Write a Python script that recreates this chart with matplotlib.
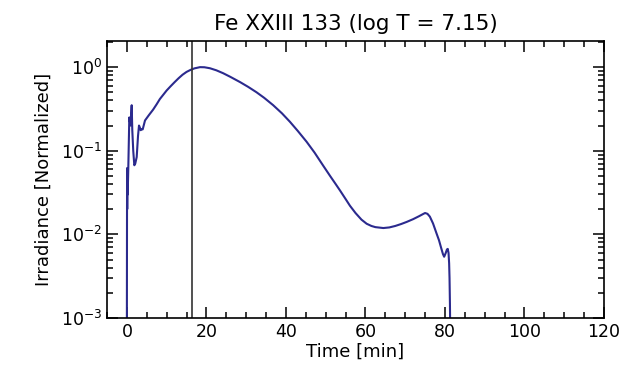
import matplotlib
matplotlib.use("Agg")
import matplotlib.pyplot as plt
from matplotlib.ticker import MultipleLocator, LogLocator, NullFormatter

time_min = [0.0, 0.03, 0.05, 0.08, 0.12, 0.2, 0.35, 0.61, 0.9, 1.21, 1.36, 1.6, 1.87, 2.1, 2.47,
            2.8, 3.05, 3.25, 3.48, 3.75, 3.98, 4.56, 5.5, 6.6, 7.5, 8.3, 9.2, 10.0, 11.0, 12.0,
            13.0, 14.0, 15.0, 16.0, 17.0, 18.4, 19.5, 20.9, 22.5, 24.2, 26.0, 28.5, 30.5, 32.6,
            34.5, 36.8, 39.0, 41.0, 43.0, 45.2, 47.2, 49.4, 51.1, 52.5, 53.6, 55.0, 56.1, 57.5,
            59.0, 60.3, 61.5, 62.5, 64.5, 66.0, 67.5, 69.0, 70.4, 72.0, 73.5, 74.5, 75.0, 75.6,
            76.2, 77.0, 77.9, 78.5, 79.0, 79.5, 79.8, 80.2, 80.5, 80.7, 80.9, 81.05, 81.15,
            81.25, 81.3]
irradiance = [0.0009, 0.013, 0.062, 0.02, 0.06, 0.03, 0.06, 0.25, 0.2, 0.35, 0.176, 0.1, 0.067,
              0.07, 0.084, 0.15, 0.20, 0.19, 0.176, 0.18, 0.18, 0.23, 0.265, 0.31, 0.36, 0.415,
              0.47, 0.525, 0.59, 0.66, 0.735, 0.81, 0.875, 0.925, 0.965, 0.998, 0.995, 0.968,
              0.915, 0.845, 0.765, 0.66, 0.58, 0.50, 0.43, 0.35, 0.28, 0.222, 0.172, 0.128,
              0.095, 0.066, 0.050, 0.040, 0.0335, 0.0265, 0.0220, 0.0180, 0.0150, 0.0134,
              0.0126, 0.0122, 0.0119, 0.0121, 0.0126, 0.0133, 0.0141, 0.0152, 0.0165, 0.0175,
              0.0180, 0.0176, 0.0163, 0.0135, 0.0102, 0.0085, 0.0070, 0.0058, 0.0054, 0.0060,
              0.0066, 0.0067, 0.0060, 0.0045, 0.0030, 0.0015, 0.0009]
marker_time = 16.5

title = "Fe XXIII 133 (log T = 7.15)"
xlabel = "Time [min]"
ylabel = "Irradiance [Normalized]"

fig = plt.figure(figsize=(6.23, 3.82), dpi=100)
ax = fig.add_axes([107/623, 1 - 318/382, (604-107)/623, (318-41)/382])

ax.plot(time_min, irradiance, color="#2b2a8e", lw=1.5)
ax.axvline(marker_time, color="#333333", lw=1.2)

ax.set_yscale("log")
ax.set_xlim(-5, 120)
ax.set_ylim(1e-3, 2.05)
ax.xaxis.set_major_locator(MultipleLocator(20))
ax.xaxis.set_minor_locator(MultipleLocator(5))
ax.yaxis.set_major_locator(LogLocator(base=10, numticks=10))
ax.yaxis.set_minor_locator(LogLocator(base=10, subs=range(2, 10), numticks=10))
ax.yaxis.set_minor_formatter(NullFormatter())

ax.tick_params(which="both", direction="in", top=True, right=True, labelsize=12.5, width=1.1)
ax.tick_params(which="major", length=8)
ax.tick_params(which="minor", length=4)
for s in ax.spines.values():
    s.set_linewidth(1.2)

ax.set_title(title, fontsize=15.5, pad=8)
ax.set_xlabel(xlabel, fontsize=13, labelpad=1)
ax.set_ylabel(ylabel, fontsize=13, labelpad=6)

fig.savefig("out.png", dpi=100)
